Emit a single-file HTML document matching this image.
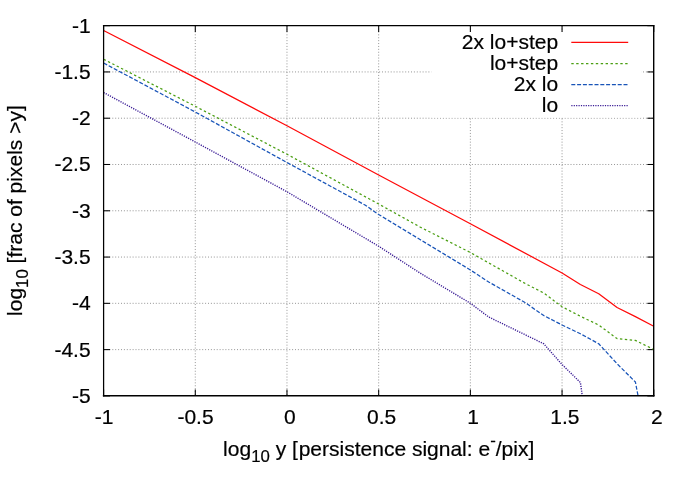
<!DOCTYPE html>
<html><head><meta charset="utf-8"><title>persistence</title>
<style>
html,body{margin:0;padding:0;background:#fff;}
body{width:692px;height:485px;overflow:hidden;}
svg{display:block;will-change:transform;}
text{font-family:"Liberation Sans",sans-serif;fill:#000;stroke:#000;stroke-width:0.2px;}
</style></head><body>
<svg width="692" height="485" viewBox="0 0 692 485">
<rect x="0" y="0" width="692" height="485" fill="#fff"/>
<defs><clipPath id="pc"><rect x="103.60" y="25.65" width="550.15" height="370.25"/></clipPath></defs>

<g stroke="#8a8a8a" stroke-width="0.9" stroke-dasharray="1 1.9" fill="none">
<line x1="103.60" y1="71.93" x2="653.75" y2="71.93"/>
<line x1="103.60" y1="118.21" x2="653.75" y2="118.21"/>
<line x1="103.60" y1="164.49" x2="653.75" y2="164.49"/>
<line x1="103.60" y1="210.78" x2="653.75" y2="210.78"/>
<line x1="103.60" y1="257.06" x2="653.75" y2="257.06"/>
<line x1="103.60" y1="303.34" x2="653.75" y2="303.34"/>
<line x1="103.60" y1="349.62" x2="653.75" y2="349.62"/>
<line x1="195.29" y1="25.65" x2="195.29" y2="395.90"/>
<line x1="286.98" y1="25.65" x2="286.98" y2="395.90"/>
<line x1="378.67" y1="25.65" x2="378.67" y2="395.90"/>
<line x1="470.37" y1="25.65" x2="470.37" y2="395.90"/>
<line x1="562.06" y1="25.65" x2="562.06" y2="395.90"/>
</g>
<rect x="431.3" y="31.5" width="209.7" height="86.1" fill="#fff"/>
<g stroke="#000" stroke-width="1.05" fill="none">
<line x1="103.60" y1="25.65" x2="110.00" y2="25.65"/>
<line x1="653.75" y1="25.65" x2="647.35" y2="25.65"/>
<line x1="103.60" y1="71.93" x2="110.00" y2="71.93"/>
<line x1="653.75" y1="71.93" x2="647.35" y2="71.93"/>
<line x1="103.60" y1="118.21" x2="110.00" y2="118.21"/>
<line x1="653.75" y1="118.21" x2="647.35" y2="118.21"/>
<line x1="103.60" y1="164.49" x2="110.00" y2="164.49"/>
<line x1="653.75" y1="164.49" x2="647.35" y2="164.49"/>
<line x1="103.60" y1="210.78" x2="110.00" y2="210.78"/>
<line x1="653.75" y1="210.78" x2="647.35" y2="210.78"/>
<line x1="103.60" y1="257.06" x2="110.00" y2="257.06"/>
<line x1="653.75" y1="257.06" x2="647.35" y2="257.06"/>
<line x1="103.60" y1="303.34" x2="110.00" y2="303.34"/>
<line x1="653.75" y1="303.34" x2="647.35" y2="303.34"/>
<line x1="103.60" y1="349.62" x2="110.00" y2="349.62"/>
<line x1="653.75" y1="349.62" x2="647.35" y2="349.62"/>
<line x1="103.60" y1="395.90" x2="110.00" y2="395.90"/>
<line x1="653.75" y1="395.90" x2="647.35" y2="395.90"/>
<line x1="103.60" y1="395.90" x2="103.60" y2="389.50"/>
<line x1="103.60" y1="25.65" x2="103.60" y2="32.05"/>
<line x1="195.29" y1="395.90" x2="195.29" y2="389.50"/>
<line x1="195.29" y1="25.65" x2="195.29" y2="32.05"/>
<line x1="286.98" y1="395.90" x2="286.98" y2="389.50"/>
<line x1="286.98" y1="25.65" x2="286.98" y2="32.05"/>
<line x1="378.67" y1="395.90" x2="378.67" y2="389.50"/>
<line x1="378.67" y1="25.65" x2="378.67" y2="32.05"/>
<line x1="470.37" y1="395.90" x2="470.37" y2="389.50"/>
<line x1="470.37" y1="25.65" x2="470.37" y2="32.05"/>
<line x1="562.06" y1="395.90" x2="562.06" y2="389.50"/>
<line x1="562.06" y1="25.65" x2="562.06" y2="32.05"/>
<line x1="653.75" y1="395.90" x2="653.75" y2="389.50"/>
<line x1="653.75" y1="25.65" x2="653.75" y2="32.05"/>
</g>
<g fill="none" clip-path="url(#pc)" stroke-linejoin="round">
<path stroke="#ff0a0a" stroke-width="1.25" d="M103.60,30.50 L195.29,77.60 L286.98,125.75 L378.67,175.00 L470.36,223.75 L562.05,273.00 L580.39,284.50 L598.73,293.75 L617.06,307.50 L635.40,316.60 L653.74,326.20"/>
<path stroke="#4a9e12" stroke-width="1.25" stroke-dasharray="2.4 2.5" d="M103.60,59.25 L195.29,106.25 L286.98,154.25 L378.67,204.00 L420.00,227.00 L470.36,252.50 L525.37,283.60 L543.71,293.00 L562.05,306.70 L580.39,316.25 L598.73,325.00 L617.06,338.60 L635.40,340.40 L653.74,349.50"/>
<path stroke="#1854b8" stroke-width="1.25" stroke-dasharray="4.0 1.8" d="M103.60,63.00 L195.29,112.00 L286.98,162.50 L365.00,205.00 L378.67,214.50 L420.00,239.50 L470.36,270.00 L488.70,282.00 L525.00,302.50 L543.71,315.50 L562.05,325.00 L580.39,333.75 L598.73,343.75 L617.06,363.75 L635.40,382.00 L653.74,478.00"/>
<path stroke="#3b1d96" stroke-width="1.4" stroke-dasharray="1.2 1.2" d="M103.60,92.50 L195.29,142.00 L286.98,191.75 L378.67,246.25 L420.00,273.00 L470.36,303.25 L488.70,317.00 L543.71,343.75 L562.05,364.50 L580.39,382.50 L598.73,513.00"/>
</g>
<g stroke="#000" fill="none" stroke-linecap="square">
<line x1="103.60" y1="25.65" x2="653.75" y2="25.65" stroke-width="1.3"/>
<line x1="103.60" y1="395.80" x2="653.75" y2="395.80" stroke-width="1.5"/>
<line x1="103.60" y1="25.65" x2="103.60" y2="395.90" stroke-width="1.25"/>
<line x1="653.70" y1="25.65" x2="653.70" y2="395.90" stroke-width="1.4"/>
</g>
<g fill="none">
<line stroke="#ff0a0a" stroke-width="1.25" x1="571.30" y1="42.40" x2="628.20" y2="42.40"/>
<line stroke="#4a9e12" stroke-width="1.25" stroke-dasharray="2.4 2.5" x1="571.30" y1="63.50" x2="628.20" y2="63.50"/>
<line stroke="#1854b8" stroke-width="1.25" stroke-dasharray="4.0 1.8" x1="571.30" y1="84.60" x2="628.20" y2="84.60"/>
<line stroke="#3b1d96" stroke-width="1.4" stroke-dasharray="1.2 1.2" x1="571.30" y1="105.65" x2="628.20" y2="105.65"/>
</g>
<g font-size="21.00" text-anchor="end">
<text x="558.2" y="49.15">2x lo+step</text>
<text x="558.2" y="70.25">lo+step</text>
<text x="558.2" y="91.35">2x lo</text>
<text x="558.2" y="112.40">lo</text>
</g>
<g font-size="21.00" text-anchor="end">
<text x="90.6" y="32.55">-1</text>
<text x="90.6" y="78.83">-1.5</text>
<text x="90.6" y="125.11">-2</text>
<text x="90.6" y="171.39">-2.5</text>
<text x="90.6" y="217.68">-3</text>
<text x="90.6" y="263.96">-3.5</text>
<text x="90.6" y="310.24">-4</text>
<text x="90.6" y="356.52">-4.5</text>
<text x="90.6" y="402.80">-5</text>
</g>
<g font-size="21.00">
<text x="94.70" y="424.4">-1</text>
<text x="177.40" y="424.4">-0.5</text>
<text x="284.00" y="424.4">0</text>
<text x="367.00" y="424.4">0.5</text>
<text x="467.35" y="424.4">1</text>
<text x="550.35" y="424.4">1.5</text>
<text x="651.00" y="424.4">2</text>
</g>
<text y="456.0" font-size="21.00"><tspan x="223.1">log</tspan><tspan font-size="16.80" dy="6.1">10</tspan><tspan dy="-6.1"> y [</tspan><tspan x="298.7">persistence signal: e</tspan><tspan font-size="16.80" dy="-10.3">-</tspan><tspan dy="10.3">/pix]</tspan></text>
<text transform="translate(22.1,210.6) rotate(-90)" font-size="21.00" text-anchor="middle">log<tspan font-size="16.80" dy="6.1">10</tspan><tspan dy="-6.1"> [frac of pixels &gt;y]</tspan></text>
</svg>
</body></html>
